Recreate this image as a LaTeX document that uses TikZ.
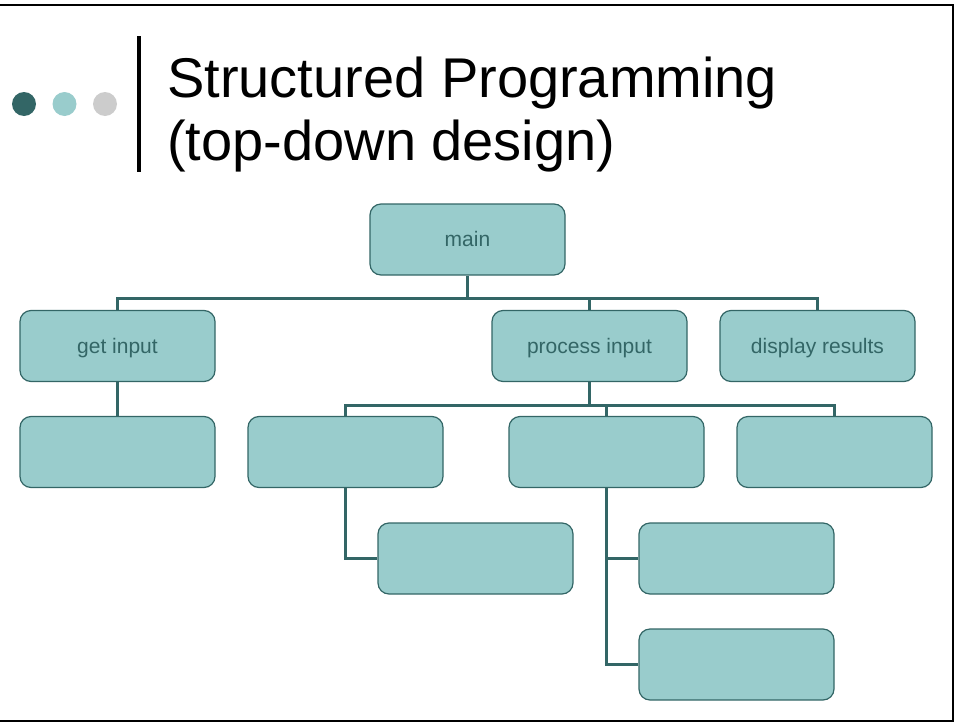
\documentclass[tikz,border=0pt]{standalone}
\usepackage{fontspec}
\setmainfont{Liberation Sans}
\newfontfamily\titlefont{Liberation Sans}
\definecolor{boxfill}{HTML}{99CCCC}
\definecolor{teal}{HTML}{336666}
\definecolor{lightgray}{HTML}{CCCCCC}
\begin{document}
\begin{tikzpicture}[x=1pt,y=-1pt,
  box/.style={draw=teal, fill=boxfill, line width=1.2pt, rounded corners=11pt,
    minimum width=195pt, minimum height=71pt, inner sep=0pt,
    text height=16pt, text depth=2pt,
    text=teal, font=\fontsize{21}{25}\selectfont},
  conn/.style={draw=teal, line width=3pt},
  frameline/.style={draw=black, line width=2.5pt},
  titletext/.style={anchor=base west, inner sep=0pt, font=\titlefont\fontsize{56}{63}\selectfont}]
\useasboundingbox (0,0) rectangle (956,723);
% frame
\draw[frameline] (0,5) -- (953,5) -- (953,721) -- (0,721);
% title decoration
\fill[teal] (24,104) circle (12);
\fill[boxfill] (64.5,104) circle (12);
\fill[lightgray] (105,104) circle (12);
\draw[black, line width=4pt] (139,36) -- (139,172);
\node[titletext] (t1) at (167,97) {Structured Programming};
\node[titletext] (t2) at (167,160) {(top-down design)};
% coordinates for buses
\coordinate (bus1) at (0,298);
\coordinate (bus2) at (0,405);
% boxes
\node[box] (main) at (467.5,239.5) {main};
\node[box] (get) at (117.5,346) {get input};
\node[box] (proc) at (589.5,346) {process input};
\node[box] (disp) at (817.5,346) {display results};
\node[box] (c1) at (117.5,452) {};
\node[box] (c2) at (345.5,452) {};
\node[box] (c3) at (606.5,452) {};
\node[box] (c4) at (834.5,452) {};
\node[box] (c5) at (475.5,558.5) {};
\node[box] (c6) at (736.5,558.5) {};
\node[box] (c7) at (736.5,664.5) {};
% connectors
\draw[conn] (main.south) -- (main.south |- bus1);
\draw[conn] (get.north) -- (get.north |- bus1) -- (disp.north |- bus1) -- (disp.north);
\draw[conn] (proc.north) -- (proc.north |- bus1);
\draw[conn] (proc.south) -- (proc.south |- bus2);
\draw[conn] (c2.north) -- (c2.north |- bus2) -- (c4.north |- bus2) -- (c4.north);
\draw[conn] (c3.north) -- (c3.north |- bus2);
\draw[conn] (get.south) -- (c1.north);
\draw[conn] (c2.south) |- (c5.west);
\draw[conn] (c3.south) |- (c6.west);
\draw[conn] (c3.south) |- (c7.west);
\end{tikzpicture}
\end{document}
